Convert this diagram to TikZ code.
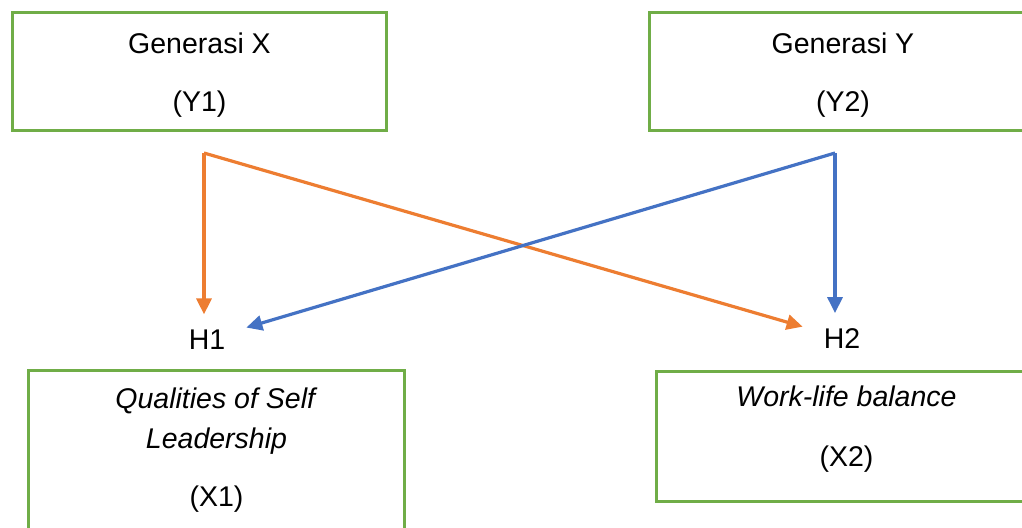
\documentclass[tikz,border=0pt]{standalone}
\usepackage{fontspec}
\setmainfont{Liberation Sans}
\usetikzlibrary{arrows.meta}

\definecolor{boxgreen}{HTML}{70AD47}
\definecolor{arrorange}{HTML}{ED7D31}
\definecolor{arrblue}{HTML}{4472C4}

\begin{document}
\begin{tikzpicture}[
    x=0.5pt, y=-0.5pt,
    box/.style={draw=boxgreen, line width=1.5pt, minimum width=187pt,
                minimum height=59pt, align=center,
                font=\fontsize{14.25}{17.1}\selectfont},
    hyp/.style={inner sep=7.3pt, font=\fontsize{14.25}{17.1}\selectfont},
    arr/.style={-{Triangle[length=8pt,width=7.5pt]}, line width=1.6pt}
  ]
    \useasboundingbox (0,0) rectangle (1022,527);
    \clip (0,0) rectangle (1022,527);

    \node[box] (gx) at (199.5,71.5) {\rule{0pt}{14.4pt}Generasi X\\[11.9pt](Y1)};
    \node[box, minimum width=193.5pt] (gy) at (843,71.5) {\rule{0pt}{14.4pt}Generasi Y\\[11.9pt](Y2)};
    \node[box, anchor=north, inner ysep=8.75pt, minimum width=188pt,
          minimum height=0pt] (qsl) at (216.5,368.5)
          {\textit{Qualities of Self}\\[2.9pt]\textit{Leadership}\\[11.9pt](X1)\rule[-8pt]{0pt}{1pt}};
    \node[box, anchor=north, inner ysep=7.5pt, minimum width=190pt,
          minimum height=0pt] (wlb) at (846.5,369.5)
          {\textit{Work-life balance}\\[12.9pt](X2)\rule[-9.75pt]{0pt}{1pt}};

    \node[hyp, anchor=base] (h1) at (207,349) {H1};
    \node[hyp, anchor=base] (h2) at (842,348) {H2};

    \coordinate (sx) at (204,153);
    \coordinate (sy) at (835,153);

    \draw[arr, arrorange] (sx) -- (sx |- h1.north);
    \draw[arr, arrorange, shorten >=3.2pt] (sx) -- (h2);
    \draw[arr, arrblue] (sy) -- (sy |- h2.north);
    \draw[arr, arrblue, shorten >=3.2pt] (sy) -- (h1);
  \end{tikzpicture}
\end{document}
